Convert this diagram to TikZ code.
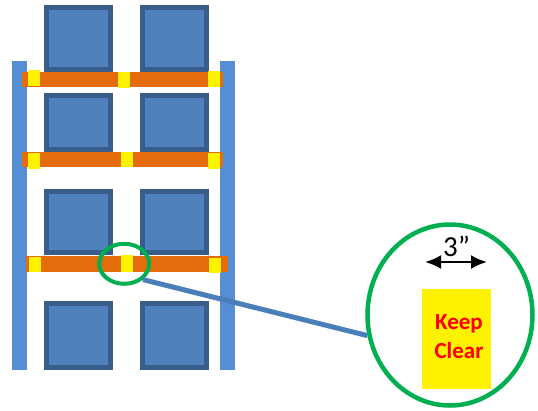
\documentclass[tikz,border=0pt]{standalone}
\usepackage{fontspec}
\setmainfont{Carlito}
\usepackage{xcolor}
\usepackage{tikz}
\usetikzlibrary{shapes.geometric,arrows.meta,positioning}
\definecolor{postblue}{HTML}{558ED5}
\definecolor{boxblue}{HTML}{4F81BD}
\definecolor{boxedge}{HTML}{385D8A}
\definecolor{beamorange}{HTML}{E46C0A}
\definecolor{lensgreen}{HTML}{00B050}
\definecolor{linkblue}{HTML}{4A7EBB}
\tikzstyle{post} = [fill=postblue]
\tikzstyle{beam} = [fill=beamorange]
\tikzstyle{tag} = [fill=yellow]
\tikzstyle{pallet} = [fill=boxblue,draw=boxedge,line width=5pt]
\tikzstyle{lens} = [draw=lensgreen,ellipse,inner sep=0pt]
\tikzstyle{link} = [draw=linkblue,line width=5pt]
\tikzstyle{width arrow} = [line width=2.4pt,{Latex[length=16pt,width=14pt]}-{Latex[length=16pt,width=14pt]}]

\begin{document}
\begin{tikzpicture}[x=1pt,y=-1pt]
        \useasboundingbox (0,0) rectangle (538,410);

        % uprights
        \fill[post] (12,61) rectangle (27,370);
        \fill[post] (220,61) rectangle (235,370);

        % pallets
        \foreach \top/\bot in {4.7/71.7, 93.3/151.7, 189.3/255, 301/370}
            \foreach \left in {44,140}
                \draw[pallet] (\left+2.5,\top+2.5) rectangle (\left+66.5,\bot-2.5);

        % beams
        \fill[beam] (21.7,72) rectangle (223,87);
        \fill[beam] (21.7,152) rectangle (223,167);
        \fill[beam] (26,255.7) rectangle (228,271.7);

        % clearance tags
        \fill[tag] (28,70) rectangle (40,86);
        \fill[tag] (118,72) rectangle (130,88);
        \fill[tag] (208,71) rectangle (220,87);
        \fill[tag] (28,153) rectangle (40,169);
        \fill[tag] (121,152) rectangle (133,167);
        \fill[tag] (208,153) rectangle (220,169);
        \fill[tag] (29,257) rectangle (41,272);
        \fill[tag] (121,255) rectangle (133,272);
        \fill[tag] (209,258) rectangle (221,273);

        % close-up
        \node[lens,
        line width=4pt,
        minimum width=50pt,
        minimum height=40pt] (spot) at (124.2,263.8) {};

        \node[lens,
        line width=4.5pt,
        minimum width=165pt,
        minimum height=181pt] (detail) at (450,315) {};

        \node[tag,
        minimum width=69pt,
        minimum height=100pt] (sign) at (456,339) {};
        \node[text=red,
        align=center,
        inner sep=0pt,
        font=\bfseries\fontsize{23}{29}\selectfont] (signtext) at (459,337) {Keep\\Clear};

        \coordinate (wl) at (425,262);
        \coordinate (wr) at (487,262);
        \node[inner sep=0pt,
        font=\fontsize{29}{32}\selectfont] (gap) at (456.5,246) {3”};

        \draw [width arrow] (wl) -- (wr);
        \draw [link] (spot.-40) -- (detail.194);

\end{tikzpicture}
\end{document}
